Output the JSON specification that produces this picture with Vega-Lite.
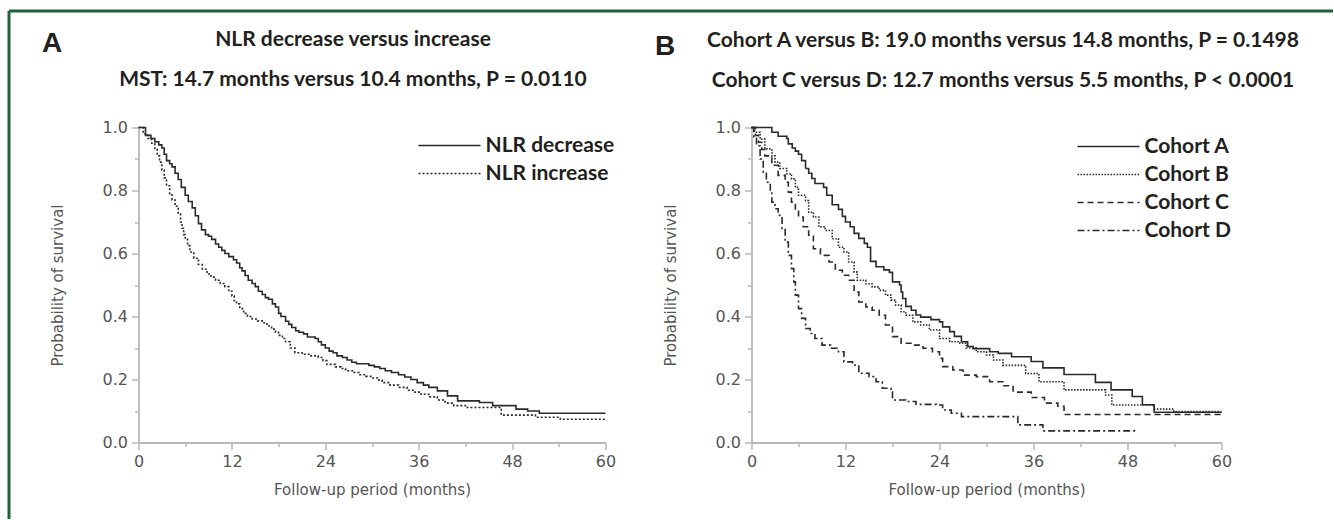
{
  "$schema": "https://vega.github.io/schema/vega-lite/v6.json",
  "background": "white",
  "autosize": {"type": "pad"},
  "padding": {"left": 8.5, "top": 10.5, "right": 0, "bottom": 0},
  "config": {
    "view": {"stroke": null},
    "axis": {
      "grid": false,
      "labelFont": "DejaVu Sans", "labelFontSize": 16, "labelColor": "#555555", "labelPadding": 4,
      "titleFont": "DejaVu Sans", "titleFontSize": 15, "titleColor": "#555555", "titleFontWeight": "normal",
      "domainColor": "#b8b8b8", "domainWidth": 1.8, "tickColor": "#b8b8b8", "tickWidth": 1.5
    },
    "legend": {
      "orient": "none", "title": null, "padding": 0,
      "symbolType": "stroke", "symbolSize": 3844, "symbolStrokeWidth": 1.5, "symbolStrokeColor": "#2a2a2a",
      "clipHeight": 22, "rowPadding": 6,
      "labelFont": "Lato", "labelFontSize": 21, "labelFontWeight": "bold", "labelColor": "#231f20", "labelOffset": 4, "labelLimit": 300
    }
  },
  "resolve": {"scale": {"strokeDash": "independent"}, "legend": {"strokeDash": "independent"}},
  "datasets": {
    "nlr": [
      {"group":"NLR decrease","month":0,"survival":1.0},{"group":"NLR decrease","month":0.9,"survival":0.975},{"group":"NLR decrease","month":1.6,"survival":0.965},{"group":"NLR decrease","month":2.1,"survival":0.955},{"group":"NLR decrease","month":2.6,"survival":0.945},{"group":"NLR decrease","month":3.0,"survival":0.935},{"group":"NLR decrease","month":3.3,"survival":0.915},{"group":"NLR decrease","month":3.6,"survival":0.895},{"group":"NLR decrease","month":4.0,"survival":0.885},{"group":"NLR decrease","month":4.3,"survival":0.875},{"group":"NLR decrease","month":4.7,"survival":0.855},{"group":"NLR decrease","month":5.1,"survival":0.835},{"group":"NLR decrease","month":5.5,"survival":0.81},{"group":"NLR decrease","month":6.0,"survival":0.785},{"group":"NLR decrease","month":6.4,"survival":0.765},{"group":"NLR decrease","month":6.9,"survival":0.745},{"group":"NLR decrease","month":7.3,"survival":0.72},{"group":"NLR decrease","month":7.7,"survival":0.695},{"group":"NLR decrease","month":8.1,"survival":0.675},{"group":"NLR decrease","month":8.6,"survival":0.66},{"group":"NLR decrease","month":9.0,"survival":0.655},{"group":"NLR decrease","month":9.4,"survival":0.645},{"group":"NLR decrease","month":9.9,"survival":0.63},{"group":"NLR decrease","month":10.3,"survival":0.62},{"group":"NLR decrease","month":10.7,"survival":0.61},{"group":"NLR decrease","month":11.1,"survival":0.6},{"group":"NLR decrease","month":11.6,"survival":0.59},{"group":"NLR decrease","month":12.2,"survival":0.58},{"group":"NLR decrease","month":12.6,"survival":0.57},{"group":"NLR decrease","month":13.0,"survival":0.555},{"group":"NLR decrease","month":13.3,"survival":0.545},{"group":"NLR decrease","month":13.7,"survival":0.53},{"group":"NLR decrease","month":14.1,"survival":0.515},{"group":"NLR decrease","month":14.6,"survival":0.505},{"group":"NLR decrease","month":15.0,"survival":0.495},{"group":"NLR decrease","month":15.4,"survival":0.48},{"group":"NLR decrease","month":15.9,"survival":0.47},{"group":"NLR decrease","month":16.3,"survival":0.46},{"group":"NLR decrease","month":16.7,"survival":0.455},{"group":"NLR decrease","month":17.2,"survival":0.44},{"group":"NLR decrease","month":17.6,"survival":0.43},{"group":"NLR decrease","month":18.0,"survival":0.41},{"group":"NLR decrease","month":18.3,"survival":0.4},{"group":"NLR decrease","month":18.9,"survival":0.385},{"group":"NLR decrease","month":19.3,"survival":0.375},{"group":"NLR decrease","month":19.7,"survival":0.365},{"group":"NLR decrease","month":20.2,"survival":0.355},{"group":"NLR decrease","month":20.6,"survival":0.35},{"group":"NLR decrease","month":21.2,"survival":0.345},{"group":"NLR decrease","month":21.7,"survival":0.335},{"group":"NLR decrease","month":22.7,"survival":0.33},{"group":"NLR decrease","month":23.1,"survival":0.32},{"group":"NLR decrease","month":23.5,"survival":0.31},{"group":"NLR decrease","month":24.0,"survival":0.3},{"group":"NLR decrease","month":24.5,"survival":0.29},{"group":"NLR decrease","month":25.0,"survival":0.285},{"group":"NLR decrease","month":25.5,"survival":0.275},{"group":"NLR decrease","month":26.2,"survival":0.27},{"group":"NLR decrease","month":26.8,"survival":0.262},{"group":"NLR decrease","month":27.4,"survival":0.255},{"group":"NLR decrease","month":28.0,"survival":0.25},{"group":"NLR decrease","month":29.6,"survival":0.245},{"group":"NLR decrease","month":30.3,"survival":0.24},{"group":"NLR decrease","month":31.0,"survival":0.235},{"group":"NLR decrease","month":31.7,"survival":0.228},{"group":"NLR decrease","month":32.5,"survival":0.222},{"group":"NLR decrease","month":33.4,"survival":0.215},{"group":"NLR decrease","month":34.2,"survival":0.208},{"group":"NLR decrease","month":35.0,"survival":0.2},{"group":"NLR decrease","month":35.8,"survival":0.19},{"group":"NLR decrease","month":36.6,"survival":0.182},{"group":"NLR decrease","month":37.3,"survival":0.175},{"group":"NLR decrease","month":38.4,"survival":0.164},{"group":"NLR decrease","month":39.7,"survival":0.148},{"group":"NLR decrease","month":41.0,"survival":0.132},{"group":"NLR decrease","month":43.8,"survival":0.127},{"group":"NLR decrease","month":45.5,"survival":0.117},{"group":"NLR decrease","month":48.5,"survival":0.106},{"group":"NLR decrease","month":50.0,"survival":0.1},{"group":"NLR decrease","month":51.5,"survival":0.093},{"group":"NLR decrease","month":60,"survival":0.093},
      {"group":"NLR increase","month":0,"survival":1.0},{"group":"NLR increase","month":0.6,"survival":0.98},{"group":"NLR increase","month":1.2,"survival":0.965},{"group":"NLR increase","month":1.7,"survival":0.95},{"group":"NLR increase","month":2.1,"survival":0.93},{"group":"NLR increase","month":2.4,"survival":0.91},{"group":"NLR increase","month":2.7,"survival":0.89},{"group":"NLR increase","month":3.0,"survival":0.865},{"group":"NLR increase","month":3.3,"survival":0.84},{"group":"NLR increase","month":3.6,"survival":0.815},{"group":"NLR increase","month":4.0,"survival":0.79},{"group":"NLR increase","month":4.3,"survival":0.77},{"group":"NLR increase","month":4.7,"survival":0.75},{"group":"NLR increase","month":5.1,"survival":0.725},{"group":"NLR increase","month":5.4,"survival":0.7},{"group":"NLR increase","month":5.6,"survival":0.68},{"group":"NLR increase","month":5.8,"survival":0.66},{"group":"NLR increase","month":6.0,"survival":0.645},{"group":"NLR increase","month":6.3,"survival":0.625},{"group":"NLR increase","month":6.6,"survival":0.605},{"group":"NLR increase","month":7.1,"survival":0.585},{"group":"NLR increase","month":7.7,"survival":0.565},{"group":"NLR increase","month":8.2,"survival":0.55},{"group":"NLR increase","month":8.8,"survival":0.535},{"group":"NLR increase","month":9.3,"survival":0.525},{"group":"NLR increase","month":9.9,"survival":0.515},{"group":"NLR increase","month":10.5,"survival":0.505},{"group":"NLR increase","month":11.1,"survival":0.495},{"group":"NLR increase","month":11.6,"survival":0.48},{"group":"NLR increase","month":12.0,"survival":0.465},{"group":"NLR increase","month":12.3,"survival":0.45},{"group":"NLR increase","month":12.6,"survival":0.44},{"group":"NLR increase","month":13.0,"survival":0.425},{"group":"NLR increase","month":13.5,"survival":0.41},{"group":"NLR increase","month":14.0,"survival":0.4},{"group":"NLR increase","month":14.6,"survival":0.392},{"group":"NLR increase","month":15.3,"survival":0.386},{"group":"NLR increase","month":15.9,"survival":0.38},{"group":"NLR increase","month":16.5,"survival":0.37},{"group":"NLR increase","month":17.1,"survival":0.36},{"group":"NLR increase","month":17.6,"survival":0.35},{"group":"NLR increase","month":18.0,"survival":0.34},{"group":"NLR increase","month":18.5,"survival":0.33},{"group":"NLR increase","month":18.9,"survival":0.32},{"group":"NLR increase","month":19.5,"survival":0.3},{"group":"NLR increase","month":20.1,"survival":0.285},{"group":"NLR increase","month":21.0,"survival":0.28},{"group":"NLR increase","month":22.0,"survival":0.275},{"group":"NLR increase","month":23.1,"survival":0.27},{"group":"NLR increase","month":23.7,"survival":0.26},{"group":"NLR increase","month":24.2,"survival":0.248},{"group":"NLR increase","month":25.3,"survival":0.24},{"group":"NLR increase","month":26.0,"survival":0.235},{"group":"NLR increase","month":26.6,"survival":0.228},{"group":"NLR increase","month":27.5,"survival":0.222},{"group":"NLR increase","month":28.3,"survival":0.215},{"group":"NLR increase","month":29.2,"survival":0.21},{"group":"NLR increase","month":30.0,"survival":0.205},{"group":"NLR increase","month":30.7,"survival":0.198},{"group":"NLR increase","month":31.3,"survival":0.19},{"group":"NLR increase","month":32.3,"survival":0.182},{"group":"NLR increase","month":33.4,"survival":0.175},{"group":"NLR increase","month":34.5,"survival":0.166},{"group":"NLR increase","month":35.5,"survival":0.16},{"group":"NLR increase","month":36.3,"survival":0.153},{"group":"NLR increase","month":37.3,"survival":0.145},{"group":"NLR increase","month":38.4,"survival":0.135},{"group":"NLR increase","month":39.4,"survival":0.125},{"group":"NLR increase","month":40.5,"survival":0.117},{"group":"NLR increase","month":42.0,"survival":0.111},{"group":"NLR increase","month":46.6,"survival":0.087},{"group":"NLR increase","month":51.0,"survival":0.08},{"group":"NLR increase","month":54.2,"survival":0.074},{"group":"NLR increase","month":60,"survival":0.074}
    ],
    "cohort": [
      {"group":"Cohort A","month":0,"survival":1.0},{"group":"Cohort A","month":2.6,"survival":0.985},{"group":"Cohort A","month":3.4,"survival":0.972},{"group":"Cohort A","month":4.5,"survival":0.965},{"group":"Cohort A","month":4.7,"survival":0.948},{"group":"Cohort A","month":5.2,"survival":0.935},{"group":"Cohort A","month":5.6,"survival":0.925},{"group":"Cohort A","month":6.0,"survival":0.915},{"group":"Cohort A","month":6.4,"survival":0.895},{"group":"Cohort A","month":6.9,"survival":0.87},{"group":"Cohort A","month":7.3,"survival":0.855},{"group":"Cohort A","month":7.7,"survival":0.838},{"group":"Cohort A","month":8.1,"survival":0.822},{"group":"Cohort A","month":9.2,"survival":0.81},{"group":"Cohort A","month":9.6,"survival":0.785},{"group":"Cohort A","month":10.3,"survival":0.755},{"group":"Cohort A","month":11.1,"survival":0.74},{"group":"Cohort A","month":11.6,"survival":0.718},{"group":"Cohort A","month":12.0,"survival":0.7},{"group":"Cohort A","month":12.6,"survival":0.685},{"group":"Cohort A","month":13.1,"survival":0.664},{"group":"Cohort A","month":13.7,"survival":0.648},{"group":"Cohort A","month":14.4,"survival":0.632},{"group":"Cohort A","month":14.8,"survival":0.62},{"group":"Cohort A","month":15.2,"survival":0.575},{"group":"Cohort A","month":15.9,"survival":0.558},{"group":"Cohort A","month":16.9,"survival":0.548},{"group":"Cohort A","month":17.6,"survival":0.54},{"group":"Cohort A","month":18.0,"survival":0.51},{"group":"Cohort A","month":18.9,"survival":0.5},{"group":"Cohort A","month":19.1,"survival":0.478},{"group":"Cohort A","month":19.3,"survival":0.457},{"group":"Cohort A","month":19.7,"survival":0.432},{"group":"Cohort A","month":20.4,"survival":0.42},{"group":"Cohort A","month":21.0,"survival":0.405},{"group":"Cohort A","month":21.6,"survival":0.398},{"group":"Cohort A","month":22.9,"survival":0.39},{"group":"Cohort A","month":24.0,"survival":0.383},{"group":"Cohort A","month":24.4,"survival":0.367},{"group":"Cohort A","month":25.3,"survival":0.352},{"group":"Cohort A","month":25.9,"survival":0.337},{"group":"Cohort A","month":26.8,"survival":0.32},{"group":"Cohort A","month":27.6,"survival":0.305},{"group":"Cohort A","month":28.3,"survival":0.298},{"group":"Cohort A","month":30.4,"survival":0.288},{"group":"Cohort A","month":31.5,"survival":0.283},{"group":"Cohort A","month":33.2,"survival":0.272},{"group":"Cohort A","month":35.7,"survival":0.257},{"group":"Cohort A","month":37.2,"survival":0.237},{"group":"Cohort A","month":39.9,"survival":0.216},{"group":"Cohort A","month":43.9,"survival":0.191},{"group":"Cohort A","month":45.9,"survival":0.167},{"group":"Cohort A","month":48.6,"survival":0.146},{"group":"Cohort A","month":49.9,"survival":0.12},{"group":"Cohort A","month":51.4,"survival":0.096},{"group":"Cohort A","month":60,"survival":0.096},
      {"group":"Cohort B","month":0,"survival":1.0},{"group":"Cohort B","month":0.4,"survival":0.985},{"group":"Cohort B","month":1.1,"survival":0.963},{"group":"Cohort B","month":1.7,"survival":0.932},{"group":"Cohort B","month":2.6,"survival":0.91},{"group":"Cohort B","month":3.0,"survival":0.89},{"group":"Cohort B","month":3.6,"survival":0.87},{"group":"Cohort B","month":4.5,"survival":0.853},{"group":"Cohort B","month":5.1,"survival":0.837},{"group":"Cohort B","month":5.6,"survival":0.81},{"group":"Cohort B","month":6.0,"survival":0.785},{"group":"Cohort B","month":6.9,"survival":0.768},{"group":"Cohort B","month":7.3,"survival":0.731},{"group":"Cohort B","month":7.9,"survival":0.716},{"group":"Cohort B","month":8.6,"survival":0.685},{"group":"Cohort B","month":9.4,"survival":0.673},{"group":"Cohort B","month":10.3,"survival":0.647},{"group":"Cohort B","month":11.1,"survival":0.62},{"group":"Cohort B","month":11.8,"survival":0.605},{"group":"Cohort B","month":12.4,"survival":0.573},{"group":"Cohort B","month":13.1,"survival":0.541},{"group":"Cohort B","month":13.5,"survival":0.515},{"group":"Cohort B","month":14.6,"survival":0.504},{"group":"Cohort B","month":15.4,"survival":0.494},{"group":"Cohort B","month":16.3,"survival":0.483},{"group":"Cohort B","month":17.1,"survival":0.468},{"group":"Cohort B","month":17.8,"survival":0.452},{"group":"Cohort B","month":18.4,"survival":0.436},{"group":"Cohort B","month":19.1,"survival":0.415},{"group":"Cohort B","month":19.7,"survival":0.404},{"group":"Cohort B","month":20.6,"survival":0.383},{"group":"Cohort B","month":21.6,"survival":0.373},{"group":"Cohort B","month":22.7,"survival":0.357},{"group":"Cohort B","month":24.0,"survival":0.33},{"group":"Cohort B","month":25.3,"survival":0.32},{"group":"Cohort B","month":26.6,"survival":0.315},{"group":"Cohort B","month":27.4,"survival":0.3},{"group":"Cohort B","month":28.7,"survival":0.288},{"group":"Cohort B","month":30.0,"survival":0.278},{"group":"Cohort B","month":30.9,"survival":0.262},{"group":"Cohort B","month":32.1,"survival":0.245},{"group":"Cohort B","month":35.0,"survival":0.219},{"group":"Cohort B","month":36.7,"survival":0.193},{"group":"Cohort B","month":39.9,"survival":0.167},{"group":"Cohort B","month":45.2,"survival":0.151},{"group":"Cohort B","month":46.0,"survival":0.119},{"group":"Cohort B","month":51.4,"survival":0.106},{"group":"Cohort B","month":53.9,"survival":0.098},{"group":"Cohort B","month":60,"survival":0.098},
      {"group":"Cohort C","month":0,"survival":1.0},{"group":"Cohort C","month":0.5,"survival":0.975},{"group":"Cohort C","month":0.9,"survival":0.953},{"group":"Cohort C","month":1.3,"survival":0.93},{"group":"Cohort C","month":1.7,"survival":0.91},{"group":"Cohort C","month":2.6,"survival":0.88},{"group":"Cohort C","month":3.4,"survival":0.848},{"group":"Cohort C","month":4.3,"survival":0.826},{"group":"Cohort C","month":4.7,"survival":0.795},{"group":"Cohort C","month":5.1,"survival":0.763},{"group":"Cohort C","month":5.6,"survival":0.737},{"group":"Cohort C","month":6.0,"survival":0.716},{"group":"Cohort C","month":6.6,"survival":0.685},{"group":"Cohort C","month":7.3,"survival":0.658},{"group":"Cohort C","month":7.9,"survival":0.615},{"group":"Cohort C","month":8.8,"survival":0.594},{"group":"Cohort C","month":9.9,"survival":0.573},{"group":"Cohort C","month":10.7,"survival":0.547},{"group":"Cohort C","month":11.6,"survival":0.531},{"group":"Cohort C","month":12.4,"survival":0.515},{"group":"Cohort C","month":13.1,"survival":0.478},{"group":"Cohort C","month":13.7,"survival":0.446},{"group":"Cohort C","month":14.6,"survival":0.43},{"group":"Cohort C","month":15.4,"survival":0.42},{"group":"Cohort C","month":16.3,"survival":0.404},{"group":"Cohort C","month":17.1,"survival":0.373},{"group":"Cohort C","month":18.0,"survival":0.336},{"group":"Cohort C","month":19.1,"survival":0.315},{"group":"Cohort C","month":20.6,"survival":0.309},{"group":"Cohort C","month":21.9,"survival":0.299},{"group":"Cohort C","month":23.1,"survival":0.288},{"group":"Cohort C","month":24.0,"survival":0.267},{"group":"Cohort C","month":24.4,"survival":0.241},{"group":"Cohort C","month":25.7,"survival":0.23},{"group":"Cohort C","month":27.0,"survival":0.214},{"group":"Cohort C","month":28.7,"survival":0.209},{"group":"Cohort C","month":30.4,"survival":0.193},{"group":"Cohort C","month":32.1,"survival":0.18},{"group":"Cohort C","month":33.4,"survival":0.16},{"group":"Cohort C","month":35.7,"survival":0.143},{"group":"Cohort C","month":37.4,"survival":0.125},{"group":"Cohort C","month":39.1,"survival":0.115},{"group":"Cohort C","month":39.9,"survival":0.089},{"group":"Cohort C","month":60,"survival":0.089},
      {"group":"Cohort D","month":0,"survival":1.0},{"group":"Cohort D","month":0.3,"survival":0.97},{"group":"Cohort D","month":0.64,"survival":0.942},{"group":"Cohort D","month":1.1,"survival":0.9},{"group":"Cohort D","month":1.5,"survival":0.858},{"group":"Cohort D","month":1.9,"survival":0.826},{"group":"Cohort D","month":2.4,"survival":0.795},{"group":"Cohort D","month":2.6,"survival":0.763},{"group":"Cohort D","month":3.0,"survival":0.742},{"group":"Cohort D","month":3.4,"survival":0.721},{"group":"Cohort D","month":3.9,"survival":0.679},{"group":"Cohort D","month":4.3,"survival":0.636},{"group":"Cohort D","month":4.7,"survival":0.594},{"group":"Cohort D","month":5.1,"survival":0.552},{"group":"Cohort D","month":5.4,"survival":0.51},{"group":"Cohort D","month":5.6,"survival":0.468},{"group":"Cohort D","month":6.0,"survival":0.425},{"group":"Cohort D","month":6.4,"survival":0.394},{"group":"Cohort D","month":6.9,"survival":0.362},{"group":"Cohort D","month":7.5,"survival":0.346},{"group":"Cohort D","month":8.1,"survival":0.33},{"group":"Cohort D","month":9.0,"survival":0.309},{"group":"Cohort D","month":10.1,"survival":0.299},{"group":"Cohort D","month":11.1,"survival":0.288},{"group":"Cohort D","month":11.8,"survival":0.256},{"group":"Cohort D","month":12.9,"survival":0.246},{"group":"Cohort D","month":13.7,"survival":0.22},{"group":"Cohort D","month":15.0,"survival":0.209},{"group":"Cohort D","month":15.9,"survival":0.193},{"group":"Cohort D","month":16.7,"survival":0.172},{"group":"Cohort D","month":17.8,"survival":0.161},{"group":"Cohort D","month":18.0,"survival":0.135},{"group":"Cohort D","month":19.7,"survival":0.13},{"group":"Cohort D","month":21.0,"survival":0.121},{"group":"Cohort D","month":23.6,"survival":0.119},{"group":"Cohort D","month":24.4,"survival":0.103},{"group":"Cohort D","month":25.5,"survival":0.093},{"group":"Cohort D","month":26.8,"survival":0.082},{"group":"Cohort D","month":34.0,"survival":0.056},{"group":"Cohort D","month":37.2,"survival":0.037},{"group":"Cohort D","month":49.1,"survival":0.037}
    ]
  },
  "bounds": "flush",
  "spacing": 146,
  "hconcat": [
    {
      "width": 467,
      "height": 315,
      "layer": [
        {
          "data": {"name": "nlr"},
          "mark": {"type": "line", "interpolate": "step-after", "color": "#2a2a2a", "strokeWidth": 1.6},
          "encoding": {
            "x": {"field": "month", "type": "quantitative", "scale": {"domain": [0, 60], "nice": false},
              "axis": {"title": "Follow-up period (months)", "values": [0,6,12,18,24,30,36,42,48,54,60], "labelExpr": "datum.value % 12 === 0 ? datum.label : ''", "labelOverlap": false, "labelFlush": false, "tickSize": {"condition": {"test": "datum.value % 12 === 0", "value": 7}, "value": 4}, "titlePadding": 13}},
            "y": {"field": "survival", "type": "quantitative", "scale": {"domain": [0, 1], "nice": false},
              "axis": {"title": "Probability of survival", "values": [0,0.1,0.2,0.3,0.4,0.5,0.6,0.7,0.8,0.9,1], "labelExpr": "round(datum.value*10) % 2 === 0 ? format(datum.value, '.1f') : ''", "labelOverlap": false, "labelFlush": false, "tickSize": {"condition": {"test": "round(datum.value*10) % 2 === 0", "value": 7}, "value": 4}, "titlePadding": 37}},
            "strokeDash": {"field": "group", "type": "nominal", "scale": {"domain": ["NLR decrease", "NLR increase"], "range": [[1, 0], [2, 2]]},
              "legend": {"legendX": 279, "legendY": 7}}
          }
        },
        {
          "data": {"values": []},
          "mark": "point",
          "encoding": {
            "x": {"field": "fx", "type": "quantitative", "scale": {"domain": [0, 1], "range": [-130, 1194]},
              "axis": {"orient": "top", "offset": 117, "domainColor": "#1f6438", "domainWidth": 3, "ticks": false, "labels": false,
                "title": ["NLR decrease versus increase", "MST: 14.7 months versus 10.4 months, P = 0.0110"],
                "titleFont": "Lato", "titleFontWeight": "bold", "titleFontSize": 21, "titleColor": "#231f20", "titleLineHeight": 40,
                "titleX": 214, "titleY": 35, "titleAlign": "center", "titleBaseline": "alphabetic", "titleAngle": 0}},
            "y": {"field": "fy", "type": "quantitative", "scale": {"domain": [0, 1], "range": [391, -117]},
              "axis": {"orient": "left", "offset": 130, "domainColor": "#1f6438", "domainWidth": 3, "ticks": false, "labels": false,
                "title": "A", "titleFont": "Liberation Sans", "titleFontWeight": "bold", "titleFontSize": 28, "titleColor": "#231f20",
                "titleAngle": 0, "titleX": 43, "titleY": -76, "titleAlign": "center", "titleBaseline": "alphabetic"}}
          }
        }
      ],
      "resolve": {"scale": {"x": "independent", "y": "independent"}, "axis": {"x": "independent", "y": "independent"}}
    },
    {
      "width": 470,
      "height": 315,
      "layer": [
        {
          "data": {"name": "cohort"},
          "mark": {"type": "line", "interpolate": "step-after", "color": "#2a2a2a", "strokeWidth": 1.6},
          "encoding": {
            "x": {"field": "month", "type": "quantitative", "scale": {"domain": [0, 60], "nice": false},
              "axis": {"title": "Follow-up period (months)", "values": [0,6,12,18,24,30,36,42,48,54,60], "labelExpr": "datum.value % 12 === 0 ? datum.label : ''", "labelOverlap": false, "labelFlush": false, "tickSize": {"condition": {"test": "datum.value % 12 === 0", "value": 7}, "value": 4}, "titlePadding": 13}},
            "y": {"field": "survival", "type": "quantitative", "scale": {"domain": [0, 1], "nice": false},
              "axis": {"title": "Probability of survival", "values": [0,0.1,0.2,0.3,0.4,0.5,0.6,0.7,0.8,0.9,1], "labelExpr": "round(datum.value*10) % 2 === 0 ? format(datum.value, '.1f') : ''", "labelOverlap": false, "labelFlush": false, "tickSize": {"condition": {"test": "round(datum.value*10) % 2 === 0", "value": 7}, "value": 4}, "titlePadding": 37}},
            "strokeDash": {"field": "group", "type": "nominal", "scale": {"domain": ["Cohort A", "Cohort B", "Cohort C", "Cohort D"], "range": [[1, 0], [1.5, 1.5], [6, 4], [7, 3, 2, 3]]},
              "legend": {"legendX": 325, "legendY": 8}}
          }
        },
        {
          "data": {"values": []},
          "mark": "point",
          "encoding": {
            "x": {"field": "fx", "type": "quantitative", "scale": {"domain": [0, 1]},
              "axis": {"orient": "top", "domain": false, "ticks": false, "labels": false,
                "title": ["Cohort A versus B: 19.0 months versus 14.8 months, P = 0.1498", "Cohort C versus D: 12.7 months versus 5.5 months, P < 0.0001"],
                "titleFont": "Lato", "titleFontWeight": "bold", "titleFontSize": 21, "titleColor": "#231f20", "titleLineHeight": 40,
                "titleX": 251, "titleY": -81, "titleAlign": "center", "titleBaseline": "alphabetic", "titleAngle": 0}},
            "y": {"field": "fy", "type": "quantitative", "scale": {"domain": [0, 1]},
              "axis": {"orient": "left", "domain": false, "ticks": false, "labels": false,
                "title": "B", "titleFont": "Liberation Sans", "titleFontWeight": "bold", "titleFontSize": 28, "titleColor": "#231f20",
                "titleAngle": 0, "titleX": -87, "titleY": -73, "titleAlign": "center", "titleBaseline": "alphabetic"}}
          }
        }
      ],
      "resolve": {"scale": {"x": "independent", "y": "independent"}, "axis": {"x": "independent", "y": "independent"}}
    }
  ]
}
